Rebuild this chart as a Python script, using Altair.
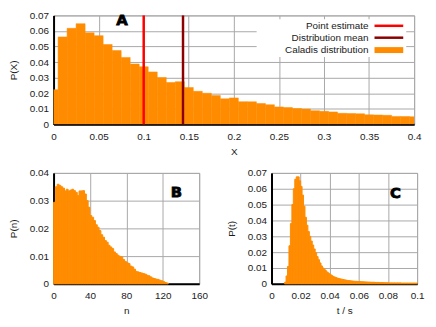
import altair as alt
import pandas as pd

FONT = "Liberation Sans"
ORANGE = "#ff8c00"
TXT = "#1a1a1a"

# ---------------- Panel A ----------------
a_centers = [0.00, 0.01, 0.02, 0.03, 0.04, 0.05, 0.06, 0.07, 0.08, 0.09,
             0.10, 0.11, 0.12, 0.13, 0.14, 0.15, 0.16, 0.17, 0.18, 0.19,
             0.20, 0.21, 0.22, 0.23, 0.24, 0.25, 0.26, 0.27, 0.28, 0.29,
             0.30, 0.31, 0.32, 0.33, 0.34, 0.35, 0.36, 0.37, 0.38, 0.39, 0.40]
a_prob = [0.0223, 0.0562, 0.0617, 0.0647, 0.0588, 0.0570, 0.0513, 0.0474, 0.0430, 0.0388,
          0.0370, 0.0337, 0.0301, 0.0269, 0.0274, 0.0237, 0.0212, 0.0200, 0.0186, 0.0164,
          0.0170, 0.0146, 0.0145, 0.0134, 0.0126, 0.0112, 0.0108, 0.0102, 0.0098, 0.0088,
          0.0084, 0.0080, 0.0071, 0.0070, 0.0068, 0.0061, 0.0060, 0.0058, 0.0051, 0.0050, 0.0049]
a_bin_width = 0.01

est_names = ["Point estimate", "Distribution mean"]
est_values = [0.1, 0.1436]
est_colors = ["#ff0000", "#8b0000"]
dist_name = "Caladis distribution"

a_xticks = [0, 0.05, 0.1, 0.15, 0.2, 0.25, 0.3, 0.35, 0.4]
a_yticks = [0, 0.01, 0.02, 0.03, 0.04, 0.05, 0.06, 0.07]

# ---------------- Panel B ----------------
b_start = 0
b_bin_width = 2
b_prob = [0.0294, 0.0350, 0.0359, 0.0355, 0.0350, 0.0345, 0.0335, 0.0341, 0.0335, 0.0338,
          0.0341, 0.0336, 0.0330, 0.0318, 0.0335, 0.0335, 0.0336, 0.0324, 0.0300, 0.0276,
          0.0246, 0.0240, 0.0228, 0.0213, 0.0204, 0.0192, 0.0177, 0.0168, 0.0156, 0.0150,
          0.0139, 0.0133, 0.0127, 0.0115, 0.0109, 0.0103, 0.0099, 0.0097, 0.0088, 0.0081,
          0.0076, 0.0073, 0.0064, 0.0061, 0.0053, 0.0045, 0.0043, 0.0041, 0.0039, 0.0037,
          0.0035, 0.0031, 0.0029, 0.0025, 0.0021, 0.0019, 0.0017, 0.0016, 0.0013, 0.0011,
          0.0008, 0.0005, 0.0003]
b_xticks = [0, 40, 80, 120, 160]
b_yticks = [0, 0.01, 0.02, 0.03, 0.04]

# ---------------- Panel C ----------------
c_start = 0.009
c_bin_width = 0.001
c_prob = [0.0010, 0.0050, 0.0110, 0.0240, 0.0380, 0.0500, 0.0600, 0.0660, 0.0675, 0.0675,
          0.0650, 0.0615, 0.0560, 0.0490, 0.0420, 0.0370, 0.0330, 0.0300, 0.0270, 0.0245,
          0.0220, 0.0196, 0.0172, 0.0152, 0.0132, 0.0113, 0.0100, 0.0090, 0.0082, 0.0073,
          0.0066, 0.0059, 0.0053, 0.0047, 0.0043, 0.0039, 0.0036, 0.0033, 0.0031, 0.0029,
          0.0027, 0.0025, 0.0023, 0.0021, 0.0020, 0.0019, 0.0018, 0.0017, 0.0016, 0.0016,
          0.0015, 0.0015, 0.0014, 0.0013, 0.0013, 0.0012, 0.0012, 0.0011, 0.0011, 0.0010,
          0.0010, 0.0010, 0.0009, 0.0009, 0.0009, 0.0008, 0.0008, 0.0008, 0.0007, 0.0007,
          0.0007, 0.0006, 0.0006, 0.0006, 0.0006, 0.0006, 0.0006, 0.0006, 0.0006, 0.0006,
          0.0005, 0.0005, 0.0005, 0.0005, 0.0005, 0.0005, 0.0005, 0.0005, 0.0005, 0.0005,
          0.0005]
c_xticks = [0, 0.02, 0.04, 0.06, 0.08, 0.1]
c_yticks = [0, 0.01, 0.02, 0.03, 0.04, 0.05, 0.06, 0.07]

# panel letters (data coordinates of each panel)
letters = ["A", "B", "C"]
letter_x = [0.0758, 135, 0.0852]
letter_y = [0.0670, 0.0332, 0.0575]

# ---------------- tables ----------------
df_a = pd.DataFrame({
    "x0": [c - a_bin_width / 2 for c in a_centers],
    "x1": [c + a_bin_width / 2 for c in a_centers],
    "p": a_prob,
})
df_lines = pd.DataFrame({"name": est_names, "x": est_values, "c": est_colors})
df_b = pd.DataFrame({
    "x0": [b_start + i * b_bin_width for i in range(len(b_prob))],
    "x1": [b_start + (i + 1) * b_bin_width for i in range(len(b_prob))],
    "p": b_prob,
})
df_c = pd.DataFrame({
    "x0": [round(c_start + i * c_bin_width, 4) for i in range(len(c_prob))],
    "x1": [round(c_start + (i + 1) * c_bin_width, 4) for i in range(len(c_prob))],
    "p": c_prob,
})

LABEL_EXPR = "'' + datum.value"


def xaxis(title, values):
    return alt.Axis(title=title, values=values, labelExpr=LABEL_EXPR, grid=True,
                    gridColor="#a8a8a8", gridWidth=1, domainColor="black",
                    domainWidth=2, ticks=False, tickSize=0, labelPadding=7,
                    titlePadding=5, labelFlush=False, labelOverlap=False,
                    labelFont=FONT, labelFontSize=10, titleFont=FONT, titleFontSize=10,
                    titleFontWeight="normal", labelColor=TXT, titleColor=TXT)


def yaxis(title, values):
    return alt.Axis(title=title, values=values, labelExpr=LABEL_EXPR, grid=True,
                    gridColor="#a8a8a8", gridWidth=1, domainColor="black",
                    domainWidth=2, ticks=False, tickSize=0, labelPadding=5,
                    titlePadding=11, labelOverlap=False, labelFont=FONT, labelFontSize=10,
                    titleFont=FONT, titleFontSize=10, titleFontWeight="normal",
                    labelColor=TXT, titleColor=TXT)


def letter(i, xs, ys, xa, ya):
    d = pd.DataFrame({"t": [letters[i]], "x": [letter_x[i]], "y": [letter_y[i]]})
    return alt.Chart(d).mark_text(font="DejaVu Sans", fontSize=15, fontWeight="bold",
                                  color="black", stroke="black", strokeWidth=0.8).encode(
        x=alt.X("x:Q", scale=xs, axis=xa), y=alt.Y("y:Q", scale=ys, axis=ya), text="t:N")


# ---------------- Panel A chart ----------------
xs_a = alt.Scale(domain=[0, 0.4], nice=False, zero=False)
ys_a = alt.Scale(domain=[0, 0.07], nice=False)
xa_a = xaxis("X", a_xticks)
ya_a = yaxis("P(X)", a_yticks)

bars_a = alt.Chart(df_a).mark_bar(clip=True, color=ORANGE, stroke=ORANGE, strokeWidth=0.5).encode(
    x=alt.X("x0:Q", scale=xs_a, axis=xa_a),
    x2="x1:Q",
    y=alt.Y("p:Q", scale=ys_a, axis=ya_a),
    y2=alt.datum(0),
)

rules_a = alt.Chart(df_lines).mark_rule(strokeWidth=2.5).encode(
    x=alt.X("x:Q", scale=xs_a, axis=xa_a),
    color=alt.Color("c:N", scale=None, legend=None),
)

# legend (labels right-aligned, samples on the right), placed in the plot's top-right
LEG_TEXT_X = 318
LEG_SYM_X0, LEG_SYM_X1 = 324, 353
LEG_ROWS = [10.5, 22.5, 35.0]
one = pd.DataFrame({"k": [0]})
leg_box = alt.Chart(one).mark_rect(color="white").encode(
    x=alt.value(205), x2=alt.value(356), y=alt.value(4), y2=alt.value(42))
leg_layers = [leg_box]
leg_labels = est_names + [dist_name]
for i, lab in enumerate(leg_labels):
    leg_layers.append(
        alt.Chart(pd.DataFrame({"t": [lab]})).mark_text(
            align="right", baseline="middle", font=FONT, fontSize=10, color=TXT).encode(
            text="t:N", x=alt.value(LEG_TEXT_X), y=alt.value(LEG_ROWS[i])))
for i, col in enumerate(est_colors):
    leg_layers.append(
        alt.Chart(pd.DataFrame({"c": [col]})).mark_rule(strokeWidth=2.5).encode(
            color=alt.Color("c:N", scale=None, legend=None),
            x=alt.value(LEG_SYM_X0), x2=alt.value(LEG_SYM_X1), y=alt.value(LEG_ROWS[i])))
leg_layers.append(
    alt.Chart(one).mark_rect(color=ORANGE).encode(
        x=alt.value(LEG_SYM_X0), x2=alt.value(LEG_SYM_X1),
        y=alt.value(LEG_ROWS[2] - 3), y2=alt.value(LEG_ROWS[2] + 3)))

panel_a = alt.layer(bars_a, rules_a, letter(0, xs_a, ys_a, xa_a, ya_a), *leg_layers).properties(
    width=364, height=110)

# ---------------- Panel B chart ----------------
xs_b = alt.Scale(domain=[0, 160], nice=False)
ys_b = alt.Scale(domain=[0, 0.04], nice=False)
xa_b = xaxis("n", b_xticks)
ya_b = yaxis("P(n)", b_yticks)
bars_b = alt.Chart(df_b).mark_bar(color=ORANGE, stroke=ORANGE, strokeWidth=1).encode(
    x=alt.X("x0:Q", scale=xs_b, axis=xa_b),
    x2="x1:Q",
    y=alt.Y("p:Q", scale=ys_b, axis=ya_b),
    y2=alt.datum(0),
)
panel_b = alt.layer(bars_b, letter(1, xs_b, ys_b, xa_b, ya_b)).properties(width=147, height=112)

# ---------------- Panel C chart ----------------
xs_c = alt.Scale(domain=[0, 0.1], nice=False)
ys_c = alt.Scale(domain=[0, 0.07], nice=False)
xa_c = xaxis("t / s", c_xticks)
ya_c = yaxis("P(t)", c_yticks)
bars_c = alt.Chart(df_c).mark_bar(color=ORANGE, stroke=ORANGE, strokeWidth=1).encode(
    x=alt.X("x0:Q", scale=xs_c, axis=xa_c),
    x2="x1:Q",
    y=alt.Y("p:Q", scale=ys_c, axis=ya_c),
    y2=alt.datum(0),
)
panel_c = alt.layer(bars_c, letter(2, xs_c, ys_c, xa_c, ya_c)).properties(width=147, height=112)

bottom = alt.hconcat(panel_b, panel_c, spacing=18)
chart = alt.vconcat(panel_a, bottom, spacing=10).properties(
    padding={"left": 0, "top": 0, "right": 3, "bottom": 0},
    background="white",
).configure_view(stroke="#a8a8a8", strokeWidth=1)

chart.save("out.html", embed_options={"renderer": "svg", "actions": False})
